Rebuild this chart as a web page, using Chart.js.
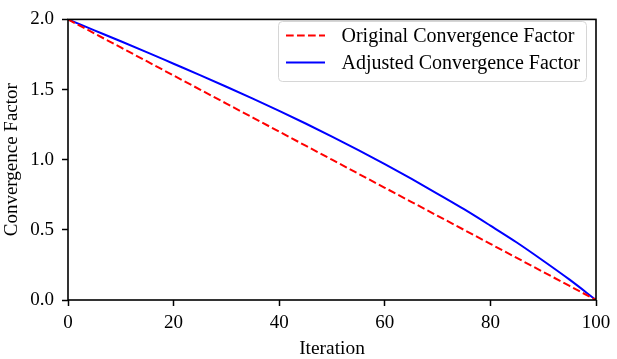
<!DOCTYPE html>
<html>
<head>
<meta charset="utf-8">
<script src="https://cdn.jsdelivr.net/npm/chart.js@4.4.0/dist/chart.umd.min.js"></script>
<style>
  html, body { margin: 0; padding: 0; background: #fff; }
  #wrap { width: 617px; height: 359px; position: relative; }
</style>
</head>
<body>
<div id="wrap"><canvas id="c" width="617" height="359"></canvas></div>
<script>
const iterations = [0,5,10,15,20,25,30,35,40,45,50,55,60,65,70,75,80,85,90,95,100];
const originalFactor = [2.0,1.9,1.8,1.7,1.6,1.5,1.4,1.3,1.2,1.1,1.0,0.9,0.8,0.7,0.6,0.5,0.4,0.3,0.2,0.1,0.0];
const adjustedFactor = [2.0,1.922,1.844,1.765,1.684,1.603,1.520,1.435,1.348,1.258,1.165,1.069,0.969,0.865,0.757,0.647,0.530,0.410,0.280,0.145,0.0];
const seriesNames = ['Original Convergence Factor', 'Adjusted Convergence Factor'];
const xTicks = [0,20,40,60,80,100];
const yTicks = [0.0,0.5,1.0,1.5,2.0];

const FONT = "'Liberation Serif', 'DejaVu Serif', 'Times New Roman', serif";

const framePlugin = {
  id: 'frame',
  afterDraw(chart) {
    const {ctx, chartArea: a} = chart;
    ctx.save();
    ctx.strokeStyle = '#000';
    ctx.lineWidth = 1.6;
    ctx.strokeRect(a.left, a.top, a.right - a.left, a.bottom - a.top);
    ctx.restore();

    // legend (matplotlib style, upper right)
    const bx = 278.5, by = 21.5, bw = 308, bh = 60;
    ctx.save();
    ctx.beginPath();
    const r = 4;
    ctx.moveTo(bx + r, by);
    ctx.lineTo(bx + bw - r, by);
    ctx.quadraticCurveTo(bx + bw, by, bx + bw, by + r);
    ctx.lineTo(bx + bw, by + bh - r);
    ctx.quadraticCurveTo(bx + bw, by + bh, bx + bw - r, by + bh);
    ctx.lineTo(bx + r, by + bh);
    ctx.quadraticCurveTo(bx, by + bh, bx, by + bh - r);
    ctx.lineTo(bx, by + r);
    ctx.quadraticCurveTo(bx, by, bx + r, by);
    ctx.closePath();
    ctx.fillStyle = 'rgba(255,255,255,0.8)';
    ctx.fill();
    ctx.strokeStyle = '#d6d6d6';
    ctx.lineWidth = 1;
    ctx.stroke();

    const rows = [35.5, 62.5];
    chart.data.datasets.forEach((ds, i) => {
      const y = rows[i];
      ctx.beginPath();
      ctx.setLineDash(ds.borderDash || []);
      ctx.strokeStyle = ds.borderColor;
      ctx.lineWidth = ds.borderWidth;
      ctx.moveTo(286, y);
      ctx.lineTo(325, y);
      ctx.stroke();
      ctx.setLineDash([]);
      ctx.fillStyle = '#000';
      ctx.font = '20px ' + FONT;
      ctx.textBaseline = 'middle';
      ctx.textAlign = 'left';
      ctx.fillText(ds.label, 341.5, y + 1);
    });
    ctx.restore();
  }
};

new Chart(document.getElementById('c'), {
  type: 'line',
  data: {
    datasets: [
      {
        label: seriesNames[0],
        data: iterations.map((x, i) => ({x, y: originalFactor[i]})),
        borderColor: '#ff0000',
        borderWidth: 2,
        borderDash: [7.7, 3.3],
        pointRadius: 0,
        fill: false,
        tension: 0
      },
      {
        label: seriesNames[1],
        data: iterations.map((x, i) => ({x, y: adjustedFactor[i]})),
        borderColor: '#0000ff',
        borderWidth: 2,
        pointRadius: 0,
        fill: false,
        cubicInterpolationMode: 'monotone'
      }
    ]
  },
  options: {
    responsive: false,
    animation: false,
    devicePixelRatio: 1,
    layout: { padding: { top: 10, right: 21, left: 0, bottom: 0 } },
    plugins: { legend: { display: false }, tooltip: { enabled: false } },
    scales: {
      x: {
        type: 'linear',
        min: 0, max: 100,
        afterBuildTicks(scale) { scale.ticks = xTicks.map(v => ({value: v})); },
        afterFit(scale) { scale.height = 59; },
        border: { display: false },
        grid: { display: true, drawOnChartArea: false, drawTicks: true, tickLength: 6, tickColor: '#000', tickWidth: 1.5 },
        ticks: { color: '#000', font: { family: FONT, size: 19 }, padding: 6, maxRotation: 0, callback: v => String(v) },
        title: { display: true, text: 'Iteration', color: '#000', font: { family: FONT, size: 19.4, lineHeight: 1.0 }, padding: { top: 0, bottom: 0 } }
      },
      y: {
        type: 'linear',
        min: 0, max: 2,
        afterBuildTicks(scale) { scale.ticks = yTicks.map(v => ({value: v})); },
        afterFit(scale) { scale.width = 68; },
        border: { display: false },
        grid: { display: true, drawOnChartArea: false, drawTicks: true, tickLength: 6, tickColor: '#000', tickWidth: 1.5 },
        ticks: { color: '#000', font: { family: FONT, size: 19 }, padding: 8, callback: v => Number(v).toFixed(1) },
        title: { display: true, text: 'Convergence Factor', color: '#000', font: { family: FONT, size: 19 }, padding: { top: 1, bottom: 0 } }
      }
    }
  },
  plugins: [framePlugin]
});
</script>
</body>
</html>
